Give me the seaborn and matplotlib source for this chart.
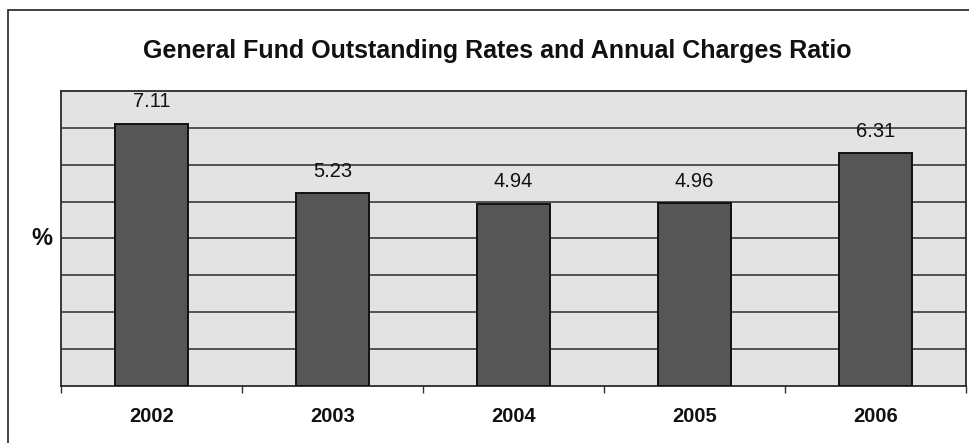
import matplotlib
matplotlib.use("Agg")
import matplotlib.pyplot as plt
import seaborn as sns
import pandas as pd
from matplotlib.patches import Rectangle

years = ["2002", "2003", "2004", "2005", "2006"]
ratios = [7.11, 5.23, 4.94, 4.96, 6.31]

title = "General Fund Outstanding Rates and Annual Charges Ratio"

sns.set_theme(style="white")
plt.rcParams["font.family"] = ["Liberation Sans", "DejaVu Sans"]

df = pd.DataFrame({"year": years, "ratio": ratios})

fig = plt.figure(figsize=(9.70, 4.43), dpi=100)
ax = fig.add_axes([0.0629, 0.1287, 0.9330, 0.6659])

# outer chart frame (left and top edges visible)
fig.patches.append(Rectangle((8 / 970, -0.05), 1.2, 1 - 10 / 443 + 0.05,
                             transform=fig.transFigure, fill=False,
                             edgecolor="#222222", linewidth=1.2))

ax.set_facecolor("#e3e3e3")
sns.barplot(data=df, x="year", y="ratio", width=0.4, color="#565656",
            saturation=1, edgecolor="#111111", linewidth=1.4, ax=ax, zorder=3)

ax.set_ylim(0, 8)
ax.set_xlim(-0.5, len(years) - 0.5)
ax.set_yticks(range(1, 8))
ax.set_yticklabels([])
ax.tick_params(axis="y", length=0)
ax.yaxis.grid(True, color="#2a2a2a", linewidth=1.1, zorder=1)
ax.set_axisbelow(True)

ax.set_xticks(range(len(years)))
ax.set_xticklabels(years, fontsize=14.5, fontweight="bold", color="#111111")
ax.tick_params(axis="x", which="major", length=0, pad=15)
ax.set_xticks([i - 0.5 for i in range(len(years) + 1)], minor=True)
ax.tick_params(axis="x", which="minor", length=5, width=1, color="#333333",
               direction="out", bottom=True)

for side in ["left", "right", "top", "bottom"]:
    ax.spines[side].set_visible(True)
    ax.spines[side].set_color("#2a2a2a")
    ax.spines[side].set_linewidth(1.3)

ax.set_xlabel("")
ax.set_ylabel("%", rotation=0, fontsize=17, fontweight="bold", labelpad=10,
              va="center", color="#111111")

for i, v in enumerate(ratios):
    ax.annotate(f"{v:.2f}", (i, v), xytext=(0, 9), textcoords="offset points",
                ha="center", va="bottom", fontsize=14.5, color="#111111")

fig.text(0.513, 1 - 51 / 443, title, ha="center", va="center",
         fontsize=18, fontweight="bold", color="#111111")

fig.savefig("out.png", dpi=100)
